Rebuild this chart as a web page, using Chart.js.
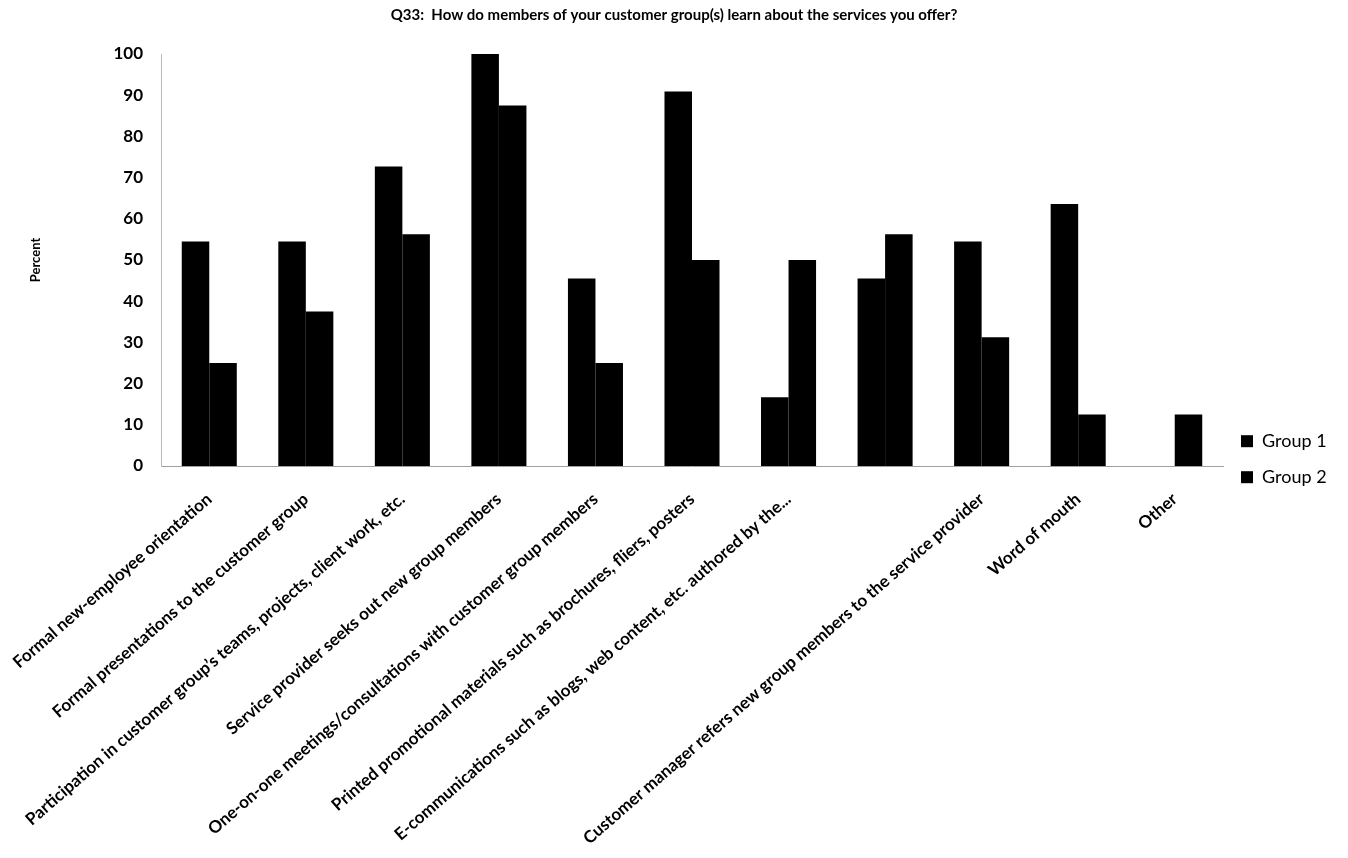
<!DOCTYPE html>
<html>
<head>
<meta charset="utf-8">
<script src="https://cdn.jsdelivr.net/npm/chart.js@4/dist/chart.umd.min.js"></script>
<style>
  html, body { margin: 0; padding: 0; background: #fff; }
  #wrap { width: 1348px; height: 858px; }
</style>
</head>
<body>
<div id="wrap"><canvas id="chart"></canvas></div>
<script>
// Survey answers (percent of respondents)
const categories = [
  'Formal new-employee orientation',
  'Formal presentations to the customer group',
  'Participation in customer group\u2019s teams, projects, client work, etc.',
  'Service provider seeks out new group members',
  'One-on-one meetings/consultations with customer group members',
  'Printed promotional materials such as brochures, fliers, posters',
  'E-communications such as blogs, web content, etc. authored by the...',
  '',
  'Customer manager refers new group members to the service provider',
  'Word of mouth',
  'Other',
];
const group1 = [54.5, 54.5, 72.7, 100, 45.5, 90.9, 16.7, 45.5, 54.5, 63.6, 0];
const group2 = [25, 37.5, 56.25, 87.5, 25, 50, 50, 56.25, 31.25, 12.5, 12.5];
const seriesNames = ['Group 1', 'Group 2'];
const yTicks = { min: 0, max: 100, step: 10 };

const FONT = 'Lato, "Open Sans", sans-serif';
const LEGEND_WIDTH = 125;

// keep the legend column at a fixed width so the plot ends where the original does
const legendWidth = {
  id: 'legendWidth',
  beforeInit(chart) {
    const fit = chart.legend.fit;
    chart.legend.fit = function () {
      fit.call(this);
      this.width = LEGEND_WIDTH;
    };
  },
};

new Chart(document.getElementById('chart'), {
  type: 'bar',
  data: {
    labels: categories,
    datasets: [
      { label: seriesNames[0], data: group1, backgroundColor: '#000' },
      { label: seriesNames[1], data: group2, backgroundColor: '#000' },
    ],
  },
  options: {
    responsive: true,
    maintainAspectRatio: false,
    animation: false,
    layout: { padding: 0 },
    datasets: {
      bar: { categoryPercentage: 0.57, barPercentage: 1.0 },
    },
    scales: {
      x: {
        grid: { display: false, drawTicks: false },
        border: { display: true, color: '#a0a0a0', width: 1 },
        ticks: {
          color: '#000',
          font: { family: FONT, size: 17, weight: 'bold' },
          minRotation: 41,
          maxRotation: 41,
          autoSkip: false,
          padding: 23,
        },
        afterFit(scale) {
          scale.height = 392;
          // long rotated labels may run to the page edge, like the original
          scale.paddingLeft = 0;
          scale.paddingRight = 0;
        },
      },
      y: {
        min: yTicks.min,
        max: yTicks.max,
        grid: { display: false, drawTicks: false },
        border: { display: true, color: '#b8b8b8', width: 1, dash: [1, 2] },
        ticks: {
          stepSize: yTicks.step,
          color: '#000',
          font: { family: FONT, size: 17, weight: 'bold' },
          padding: 18,
        },
        title: {
          display: true,
          text: 'Percent',
          color: '#000',
          font: { family: FONT, size: 13, weight: 'bold' },
          padding: { top: 28, bottom: 0 },
        },
        afterFit(scale) {
          scale.width = 161;
        },
      },
    },
    plugins: {
      title: {
        display: true,
        text: 'Q33:  How do members of your customer group(s) learn about the services you offer?',
        color: '#000',
        font: { family: FONT, size: 15, weight: 'bold' },
        padding: { top: 6, bottom: 30 },
      },
      legend: {
        position: 'right',
        align: 'center',
        title: { display: true, text: '', padding: 23 },
        labels: {
          color: '#000',
          font: { family: FONT, size: 18 },
          boxWidth: 12,
          boxHeight: 12,
          padding: 18,
        },
      },
      tooltip: { enabled: false },
    },
  },
  plugins: [legendWidth],
});
</script>
</body>
</html>
